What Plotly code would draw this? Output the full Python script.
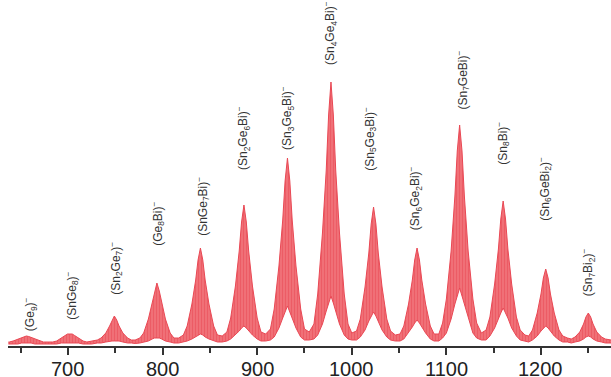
import plotly.graph_objects as go

# ---- data ----
labels = ["(Ge<sub>9</sub>)<sup>−</sup>", "(SnGe<sub>8</sub>)<sup>−</sup>", "(Sn<sub>2</sub>Ge<sub>7</sub>)<sup>−</sup>",
          "(Ge<sub>8</sub>Bi)<sup>−</sup>", "(SnGe<sub>7</sub>Bi)<sup>−</sup>", "(Sn<sub>2</sub>Ge<sub>6</sub>Bi)<sup>−</sup>",
          "(Sn<sub>3</sub>Ge<sub>5</sub>Bi)<sup>−</sup>", "(Sn<sub>4</sub>Ge<sub>4</sub>Bi)<sup>−</sup>",
          "(Sn<sub>5</sub>Ge<sub>3</sub>Bi)<sup>−</sup>", "(Sn<sub>6</sub>Ge<sub>2</sub>Bi)<sup>−</sup>",
          "(Sn<sub>7</sub>GeBi)<sup>−</sup>", "(Sn<sub>8</sub>Bi)<sup>−</sup>",
          "(Sn<sub>6</sub>GeBi<sub>2</sub>)<sup>−</sup>", "(Sn<sub>7</sub>Bi<sub>2</sub>)<sup>−</sup>"]
peak_mz = [656, 702, 749, 794, 840, 886, 932, 978, 1023, 1069, 1114, 1160, 1205, 1250]
label_mz = [660, 704, 750, 795, 842, 885, 931.5, 977, 1019, 1067, 1116.5, 1159, 1204, 1250]
label_base = [13, 24, 49, 98, 108, 174, 194, 279, 173, 114, 234, 179, 123, 48]

# envelope samples relative to each peak centre (m/z offsets)
offsets = [-18, -14, -9, -5, -2.5, 0, 2.5, 5, 9, 14, 18]
upper_rows = [
    [4, 5, 7, 8.5, 9.5, 10, 9.5, 8.5, 7, 5, 4],
    [4, 5, 8, 10.5, 12, 12, 12, 10.5, 8, 5, 4],
    [6, 8, 13, 20, 26, 30, 26, 20, 13, 8, 6],
    [8, 13, 27, 43, 55, 63, 55, 43, 27, 13, 8],
    [11, 20, 42, 66, 86, 98, 86, 66, 42, 20, 11],
    [14, 28, 60, 95, 124, 141, 124, 95, 60, 28, 14],
    [17, 37, 80, 126, 165, 188, 165, 126, 80, 37, 17],
    [22, 52, 113, 176, 231, 264, 231, 176, 113, 52, 22],
    [15, 27, 59, 93, 122, 139, 122, 93, 59, 27, 15],
    [12, 20, 42, 66, 86, 98, 86, 66, 42, 20, 12],
    [23, 47, 95, 150, 195, 221, 195, 150, 95, 47, 23],
    [16, 29, 62, 97, 127, 145, 127, 97, 62, 29, 16],
    [10, 16, 33, 52, 68, 77, 68, 52, 33, 16, 10],
    [7, 9, 14, 22, 29, 33, 29, 22, 14, 9, 7],
]
lower_rows = [
    [2, 2, 2, 3, 3, 3, 3, 3, 2, 2, 2],
    [2, 2, 3, 3, 3, 3, 3, 3, 3, 2, 2],
    [3, 3, 4, 5, 5, 5, 5, 5, 4, 3, 3],
    [3, 4, 5, 7, 8, 8, 8, 7, 5, 4, 3],
    [4, 5, 7, 9, 11, 12, 11, 9, 7, 5, 4],
    [5, 7, 11, 15, 18, 20, 18, 15, 11, 7, 5],
    [6, 9, 18, 28, 34, 40, 34, 28, 18, 9, 6],
    [7, 11, 22, 35, 43, 50, 43, 35, 22, 11, 7],
    [6, 9, 16, 25, 30, 34, 30, 25, 16, 9, 6],
    [5, 7, 13, 19, 23, 26, 23, 19, 13, 7, 5],
    [8, 13, 27, 42, 50, 58, 50, 42, 27, 13, 8],
    [6, 10, 18, 28, 33, 38, 33, 28, 18, 10, 6],
    [4, 6, 10, 15, 18, 20, 18, 15, 10, 6, 4],
    [3, 4, 5, 7, 9, 10, 9, 7, 5, 4, 3],
]
# valleys: left end, between consecutive peaks, right end
valley_mz = [637, 679, 725, 771, 817, 863, 909, 955, 1000, 1046, 1092, 1137, 1183, 1228, 1274]
valley_upper = [4, 4, 5, 6, 8, 10, 12, 14, 13, 11, 12, 13, 11, 8, 6]
valley_lower = [2, 1.5, 2, 2.5, 3, 4, 5, 6, 6, 5, 5, 6, 5, 4, 3]

tick_vals = [700, 800, 900, 1000, 1100, 1200]
tick_text = ["700", "800", "900", "1000", "1100", "1200"]
minor_vals = [650, 750, 850, 950, 1050, 1150, 1250]

# ---- assemble envelope series ----
xs, up, lo = [valley_mz[0]], [valley_upper[0]], [valley_lower[0]]
for i, c in enumerate(peak_mz):
    for o, u, l in zip(offsets, upper_rows[i], lower_rows[i]):
        xs.append(c + o); up.append(u); lo.append(l)
    xs.append(valley_mz[i + 1]); up.append(valley_upper[i + 1]); lo.append(valley_lower[i + 1])

EDGE = "rgb(233,72,84)"
fig = go.Figure()
fig.add_trace(go.Scatter(x=xs, y=lo, mode="lines", line=dict(color=EDGE, width=1),
                         hoverinfo="skip", showlegend=False))
fig.add_trace(go.Scatter(x=xs, y=up, mode="lines", line=dict(color=EDGE, width=1),
                         fill="tonexty", fillcolor="rgb(238,100,108)",
                         fillpattern=dict(shape="|", bgcolor="rgb(241,118,125)",
                                          fgcolor="rgb(231,66,78)", size=3, solidity=0.5),
                         hoverinfo="skip", showlegend=False))

FONT = "Liberation Sans Narrow, Arial Narrow, Liberation Sans, Arial, sans-serif"
for t, x, yb in zip(labels, label_mz, label_base):
    fig.add_annotation(x=x, y=yb, text=t, textangle=-90, showarrow=False,
                       xanchor="center", yanchor="bottom",
                       font=dict(family=FONT, size=12, color="#333"))

# tick labels placed as annotations just under the axis
for v, t in zip(tick_vals, tick_text):
    fig.add_annotation(x=v, xref="x", y=0, yref="paper", text=t, showarrow=False,
                       xanchor="center", yanchor="top", yshift=-11, borderpad=0,
                       font=dict(family=FONT, size=20, color="#222"))

fig.update_layout(
    width=611, height=377,
    margin=dict(l=8, r=0, t=0, b=31, autoexpand=False),
    paper_bgcolor="white", plot_bgcolor="white",
    xaxis=dict(range=[636.6, 1274], showgrid=False, zeroline=False,
               showline=True, linecolor="#333", linewidth=2,
               ticks="outside", ticklen=7, tickwidth=1.5, tickcolor="#333",
               tickvals=tick_vals, showticklabels=False,
               minor=dict(tickvals=minor_vals,
                          ticks="outside", ticklen=5, tickwidth=1.5, tickcolor="#333")),
    yaxis=dict(range=[0, 346], visible=False, showgrid=False, zeroline=False),
)
fig.write_html("out.html", config={"displayModeBar": False},
               post_script="document.body.style.margin='0px';document.body.style.overflow='hidden';")
